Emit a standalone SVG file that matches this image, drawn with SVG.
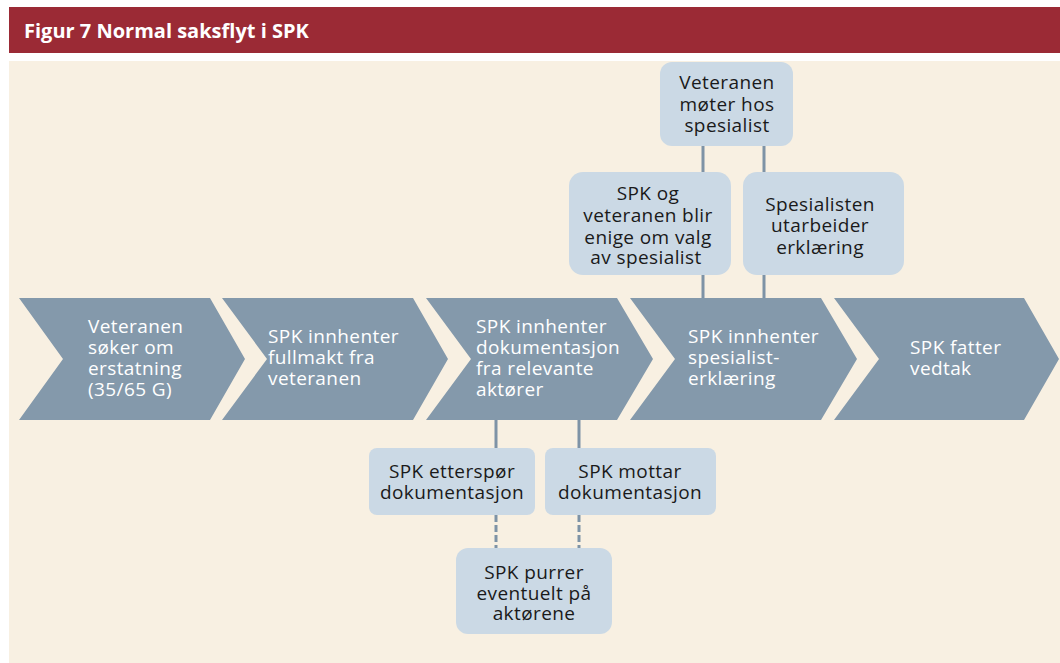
<svg xmlns="http://www.w3.org/2000/svg" width="1060" height="663" viewBox="0 0 1060 663">
<defs>
<style>
.hdr{fill:#9b2a35}
.bg{fill:#f8f0e2}
.chev{fill:#8499ab}
.box{fill:#cbd9e5}
.ct{font-family:"Open Sans","Liberation Sans",sans-serif;font-size:19px;letter-spacing:0.4px;fill:#ffffff}
.bt{font-family:"Open Sans","Liberation Sans",sans-serif;font-size:19px;letter-spacing:0.4px;fill:#1a1a1a;text-anchor:middle}
.title{font-family:"Open Sans","Liberation Sans",sans-serif;font-size:20px;font-weight:bold;fill:#ffffff}
.ln{stroke:#7e93a6;stroke-width:3;fill:none}
.dl{stroke:#7e93a6;stroke-width:3;fill:none;stroke-dasharray:7 3}
</style>
</defs>
<rect class="hdr" x="9" y="7" width="1051" height="46"/>
<text class="title" x="24" y="38">Figur 7 Normal saksflyt i SPK</text>
<rect class="bg" x="9" y="61" width="1051" height="602"/>

<g id="connectors">
<line class="ln" x1="703" y1="146" x2="703" y2="172"/>
<line class="ln" x1="764" y1="146" x2="764" y2="172"/>
<line class="ln" x1="703" y1="275" x2="703" y2="298"/>
<line class="ln" x1="764" y1="275" x2="764" y2="298"/>
<line class="ln" x1="496" y1="420" x2="496" y2="448"/>
<line class="ln" x1="579" y1="420" x2="579" y2="448"/>
<line class="dl" x1="496" y1="515" x2="496" y2="548"/>
<line class="dl" x1="579" y1="515" x2="579" y2="548"/>
</g>

<g id="step1">
<polygon class="chev" points="19,298 210,298 245,359 210,420 19,420 63,359"/>
<text class="ct"><tspan x="88" y="333">Veteranen</tspan><tspan x="88" y="354">søker om</tspan><tspan x="88" y="375">erstatning</tspan><tspan x="88" y="396">(35/65 G)</tspan></text>
</g>
<g id="step2">
<polygon class="chev" points="222,298 413,298 448,359 413,420 222,420 267,359"/>
<text class="ct"><tspan x="268" y="343">SPK innhenter</tspan><tspan x="268" y="364">fullmakt fra</tspan><tspan x="268" y="385">veteranen</tspan></text>
</g>
<g id="step3">
<polygon class="chev" points="426,298 617,298 653,359 617,420 426,420 471,359"/>
<text class="ct"><tspan x="476" y="333">SPK innhenter</tspan><tspan x="476" y="354">dokumentasjon</tspan><tspan x="476" y="375">fra relevante</tspan><tspan x="476" y="396">aktører</tspan></text>
</g>
<g id="step4">
<polygon class="chev" points="630,298 821,298 857,359 821,420 630,420 675,359"/>
<text class="ct"><tspan x="688" y="343">SPK innhenter</tspan><tspan x="688" y="364">spesialist-</tspan><tspan x="688" y="385">erklæring</tspan></text>
</g>
<g id="step5">
<polygon class="chev" points="834,298 1024,298 1059,359 1024,420 834,420 879,359"/>
<text class="ct"><tspan x="910" y="354">SPK fatter</tspan><tspan x="910" y="375">vedtak</tspan></text>
</g>

<g id="box-moter">
<rect class="box" x="660" y="62" width="133" height="84" rx="12"/>
<text class="bt"><tspan x="727" y="89">Veteranen</tspan><tspan x="727" y="111">møter hos</tspan><tspan x="727" y="132">spesialist</tspan></text>
</g>
<g id="box-enige">
<rect class="box" x="569" y="172" width="162" height="103" rx="14"/>
<text class="bt"><tspan x="648" y="200">SPK og</tspan><tspan x="648" y="222">veteranen blir</tspan><tspan x="648" y="244">enige om valg</tspan><tspan x="646" y="264">av spesialist</tspan></text>
</g>
<g id="box-utarbeider">
<rect class="box" x="743" y="172" width="161" height="103" rx="14"/>
<text class="bt"><tspan x="820" y="211">Spesialisten</tspan><tspan x="820" y="232">utarbeider</tspan><tspan x="820" y="254">erklæring</tspan></text>
</g>
<g id="box-etterspor">
<rect class="box" x="369" y="448" width="166" height="67" rx="8"/>
<text class="bt"><tspan x="452" y="478">SPK etterspør</tspan><tspan x="452" y="499">dokumentasjon</tspan></text>
</g>
<g id="box-mottar">
<rect class="box" x="545" y="448" width="171" height="67" rx="8"/>
<text class="bt"><tspan x="630" y="478">SPK mottar</tspan><tspan x="630" y="499">dokumentasjon</tspan></text>
</g>
<g id="box-purrer">
<rect class="box" x="456" y="548" width="156" height="86" rx="12"/>
<text class="bt"><tspan x="534" y="579">SPK purrer</tspan><tspan x="534" y="600">eventuelt på</tspan><tspan x="534" y="620">aktørene</tspan></text>
</g>
</svg>
